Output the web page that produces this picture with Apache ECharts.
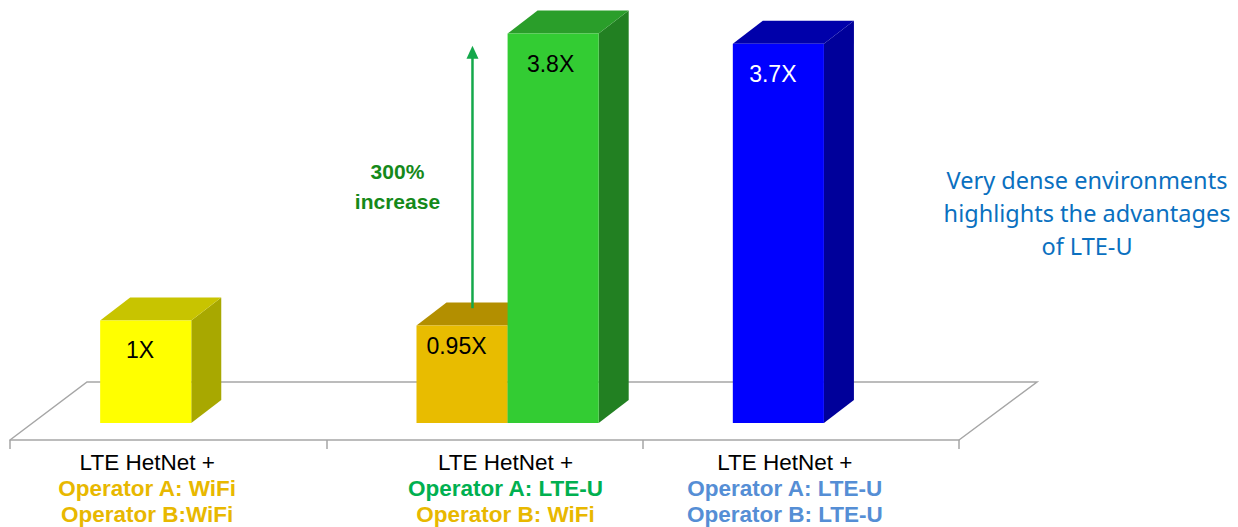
<!DOCTYPE html>
<html>
<head>
<meta charset="utf-8">
<script src="https://cdn.jsdelivr.net/npm/echarts@6/dist/echarts.min.js"></script>
<style>
html,body{margin:0;padding:0;background:#fff;}
#chart{width:1238px;height:527px;}
</style>
</head>
<body>
<div id="chart"></div>
<script>
// ---- data ----
const headLine = ['LTE HetNet +', 'LTE HetNet +', 'LTE HetNet +'];
const operatorA = ['Operator A: WiFi', 'Operator A: LTE-U', 'Operator A: LTE-U'];
const operatorB = ['Operator B:WiFi', 'Operator B: WiFi', 'Operator B: LTE-U'];
const categories = headLine.map((h, i) => h + '\n' + operatorA[i] + '\n' + operatorB[i]);
const firstBarValues = [1, 0.95, 3.7];
const firstBarLabels = ['1X', '0.95X', '3.7X'];
const secondBarValues = [null, 3.8, null];
const secondBarLabels = [null, '3.8X', null];
const increaseArrow = [1.12, 3.68];   // value range covered by the "300% increase" arrow (category 2)
const increaseText = ['300%', 'increase'];
const noteText = ['Very dense environments', 'highlights the advantages', 'of LTE-U'];

// ---- styles ----
const firstBarFront = ['#FFFF00', '#E8BC00', '#0000FF'];
const firstBarTop = ['#C8C400', '#B38F00', '#0000AA'];
const firstBarSide = ['#A8A800', '#9A7A00', '#00009A'];
const firstBarText = ['#000000', '#000000', '#FFFFFF'];
const secondFront = '#33CC33', secondTop = '#2A9E2A', secondSide = '#228022';
const aColors = ['#E8B800', '#00B050', '#558ED5'];
const bColors = ['#E8B800', '#E8B800', '#558ED5'];
const labelShift = [-42, 42, -32];
const DX = 30, DY = 23;

const chart = echarts.init(document.getElementById('chart'), null, {renderer: 'svg'});

function barGeom(api, idx, v, slot) {
  const base = api.coord([idx, 0]);
  const top = api.coord([idx, v]);
  const band = api.size([1, 0])[0];
  const w = band * 0.288;
  const x0 = base[0] - band * 0.215 + slot * w;
  return {x0: x0, x1: x0 + w, yb: base[1], yt: top[1], w: w};
}

function box(g, front, topC, side) {
  return [
    {type: 'polygon', shape: {points: [[g.x1, g.yt], [g.x1 + DX, g.yt - DY], [g.x1 + DX, g.yb - DY], [g.x1, g.yb]]}, style: {fill: side}},
    {type: 'polygon', shape: {points: [[g.x0, g.yt], [g.x0 + DX, g.yt - DY], [g.x1 + DX, g.yt - DY], [g.x1, g.yt]]}, style: {fill: topC}},
    {type: 'rect', shape: {x: g.x0, y: g.yt, width: g.x1 - g.x0, height: g.yb - g.yt}, style: {fill: front}}
  ];
}

const rich = {};
for (let i = 0; i < 3; i++) {
  const s = labelShift[i];
  const pad = s < 0 ? [0, -s, 0, 0] : [0, 0, 0, s];
  rich['h' + i] = {fontFamily: 'Liberation Sans, Arial', fontSize: 22.5, color: '#000', lineHeight: 26, padding: pad};
  rich['a' + i] = {fontFamily: 'Liberation Sans, Arial', fontSize: 22.5, fontWeight: 'bold', color: aColors[i], lineHeight: 26, padding: pad};
  rich['b' + i] = {fontFamily: 'Liberation Sans, Arial', fontSize: 22.5, fontWeight: 'bold', color: bColors[i], lineHeight: 26, padding: pad};
}

const option = {
  animation: false,
  backgroundColor: '#ffffff',
  grid: {left: 10, right: 279, top: 0, bottom: 87, containLabel: false},
  xAxis: {
    type: 'category',
    data: categories,
    boundaryGap: true,
    axisLine: {show: true, onZero: false, lineStyle: {color: '#a6a6a6', width: 1.5}},
    axisTick: {show: true, length: 9, lineStyle: {color: '#a6a6a6', width: 1.5}},
    axisLabel: {
      margin: 9,
      interval: 0,
      formatter: function (val, i) {
        return '{h' + i + '|' + headLine[i] + '}\n{a' + i + '|' + operatorA[i] + '}\n{b' + i + '|' + operatorB[i] + '}';
      },
      rich: rich
    },
    splitLine: {show: false}
  },
  yAxis: {type: 'value', min: -0.166, max: 4.127, show: false, splitLine: {show: false}},
  series: [
    {
      type: 'custom', name: 'floor', z: 1, silent: true,
      data: [[0, 0]],
      renderItem: function (params, api) {
        const cs = params.coordSys;
        const fy = cs.y + cs.height;
        return {
          type: 'polyline',
          shape: {points: [[cs.x, fy], [cs.x + 77, fy - 58], [cs.x + cs.width + 78, fy - 58], [cs.x + cs.width, fy]]},
          style: {stroke: '#a6a6a6', lineWidth: 1.5, fill: null}
        };
      }
    },
    {
      type: 'custom', name: 'Operator bar 1', z: 2,
      encode: {x: 0, y: 1},
      data: firstBarValues.map((v, i) => [i, v]),
      renderItem: function (params, api) {
        const idx = api.value(0), v = api.value(1);
        const g = barGeom(api, idx, v, 0);
        const children = box(g, firstBarFront[idx], firstBarTop[idx], firstBarSide[idx]);
        children.push({
          type: 'text',
          style: {
            text: firstBarLabels[idx], x: g.x0 + 40, y: g.yt + (v < 1 ? 20 : 30),
            fill: firstBarText[idx], fontSize: 23, fontFamily: 'Liberation Sans, Arial',
            align: 'center', verticalAlign: 'middle'
          }
        });
        return {type: 'group', children: children};
      }
    },
    {
      type: 'custom', name: 'Operator bar 2', z: 3,
      encode: {x: 0, y: 1},
      data: secondBarValues.map((v, i) => [i, v]).filter(d => d[1] != null),
      renderItem: function (params, api) {
        const idx = api.value(0), v = api.value(1);
        const g = barGeom(api, idx, v, 1);
        const children = box(g, secondFront, secondTop, secondSide);
        children.push({
          type: 'text',
          style: {
            text: secondBarLabels[idx], x: g.x0 + 43, y: g.yt + 30,
            fill: '#000', fontSize: 23, fontFamily: 'Liberation Sans, Arial',
            align: 'center', verticalAlign: 'middle'
          }
        });
        return {type: 'group', children: children};
      }
    },
    {
      type: 'custom', name: 'increase arrow', z: 4, silent: true,
      data: [[1, increaseArrow[0], increaseArrow[1]]],
      renderItem: function (params, api) {
        const idx = api.value(0);
        const p0 = api.coord([idx, api.value(1)]);
        const p1 = api.coord([idx, api.value(2)]);
        const band = api.size([1, 0])[0];
        const x = p0[0] - band * 0.038;
        const tx = x - 75;
        const ty = (p0[1] + p1[1]) / 2 + 9;
        return {
          type: 'group',
          children: [
            {type: 'line', shape: {x1: x, y1: p0[1], x2: x, y2: p1[1] + 10}, style: {stroke: '#14A84B', lineWidth: 2.5}},
            {type: 'polygon', shape: {points: [[x - 6, p1[1] + 13], [x, p1[1]], [x + 6, p1[1] + 13]]}, style: {fill: '#14A84B'}},
            {type: 'text', style: {text: increaseText.join('\n'), x: tx, y: ty, fill: '#15891A', fontSize: 21, fontWeight: 'bold', fontFamily: 'Liberation Sans, Arial', lineHeight: 30, align: 'center', verticalAlign: 'middle'}}
          ]
        };
      }
    }
  ],
  graphic: [
    {
      type: 'text', x: 1087, y: 213, z: 10,
      style: {
        text: noteText.join('\n'), fill: '#0A70C0', fontSize: 23.5, fontFamily: 'Noto Sans, Open Sans, sans-serif',
        lineHeight: 33, align: 'center', verticalAlign: 'middle'
      }
    }
  ]
};
chart.setOption(option);
</script>
</body>
</html>
